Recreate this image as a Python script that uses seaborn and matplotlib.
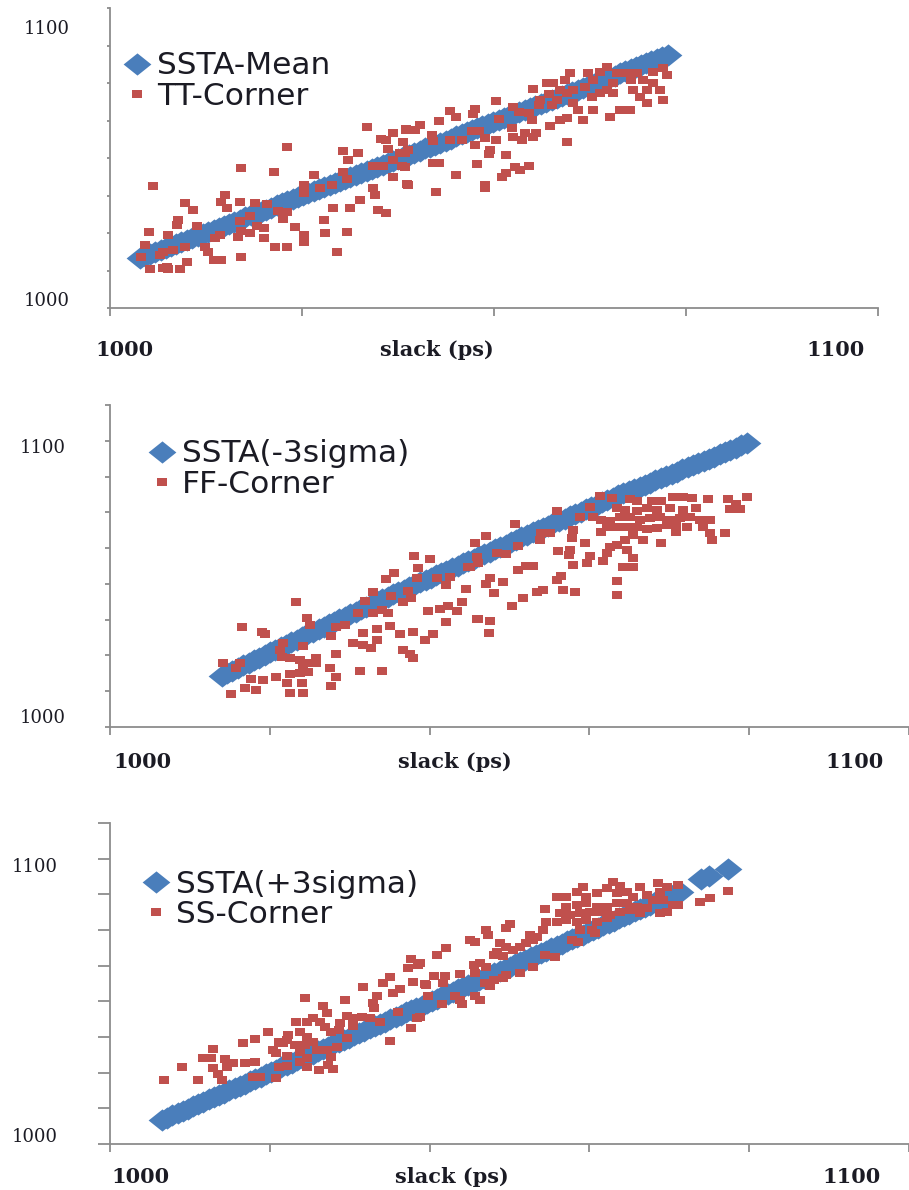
import numpy as np
import pandas as pd
import matplotlib
matplotlib.use("Agg")
import matplotlib.pyplot as plt
from matplotlib.path import Path
import seaborn as sns

# ---------------- data (slack in ps, delay in ps) ----------------
SSTA_MEAN = [
    (1003.9, 1016.7), (1004.55, 1017.35), (1005.2, 1018.0), (1005.9, 1018.7), (1006.6, 1019.4),
    (1007.3, 1020.05), (1008.0, 1020.7), (1008.65, 1021.35), (1009.3, 1022.0), (1010.0, 1022.7),
    (1010.7, 1023.4), (1011.4, 1024.1), (1012.1, 1024.8), (1012.8, 1025.45), (1013.5, 1026.1),
    (1014.15, 1026.75), (1014.8, 1027.4), (1015.5, 1028.1), (1016.2, 1028.8), (1016.9, 1029.5),
    (1017.6, 1030.2), (1018.3, 1030.85), (1019.0, 1031.5), (1019.65, 1032.15), (1020.3, 1032.8),
    (1021.0, 1033.5), (1021.7, 1034.2), (1022.4, 1034.9), (1023.1, 1035.6), (1023.8, 1036.25),
    (1024.5, 1036.9), (1025.15, 1037.55), (1025.8, 1038.2), (1026.5, 1038.9), (1027.2, 1039.6),
    (1027.9, 1040.25), (1028.6, 1040.9), (1029.3, 1041.6), (1030.0, 1042.3), (1030.65, 1042.95),
    (1031.3, 1043.6), (1032.0, 1044.3), (1032.7, 1045.0), (1033.4, 1045.7), (1034.1, 1046.4),
    (1034.8, 1047.1), (1035.5, 1047.8), (1036.15, 1048.4), (1036.8, 1049.0), (1037.5, 1049.7),
    (1038.2, 1050.4), (1038.9, 1051.1), (1039.6, 1051.8), (1040.3, 1052.5), (1041.0, 1053.2),
    (1041.65, 1053.8), (1042.3, 1054.4), (1043.0, 1055.1), (1043.7, 1055.8), (1044.4, 1056.5),
    (1045.1, 1057.2), (1045.8, 1057.9), (1046.5, 1058.6), (1047.15, 1059.25), (1047.8, 1059.9),
    (1048.5, 1060.55), (1049.2, 1061.2), (1049.9, 1061.9), (1050.6, 1062.6), (1051.3, 1063.3),
    (1052.0, 1064.0), (1052.65, 1064.65), (1053.3, 1065.3), (1054.0, 1065.95), (1054.7, 1066.6),
    (1055.4, 1067.3), (1056.1, 1068.0), (1056.8, 1068.7), (1057.5, 1069.4), (1058.15, 1070.05),
    (1058.8, 1070.7), (1059.5, 1071.4), (1060.2, 1072.1), (1060.9, 1072.8), (1061.6, 1073.5),
    (1062.3, 1074.15), (1063.0, 1074.8), (1063.65, 1075.45), (1064.3, 1076.1), (1065.0, 1076.8),
    (1065.7, 1077.5), (1066.4, 1078.2), (1067.1, 1078.9), (1067.8, 1079.6), (1068.5, 1080.3),
    (1069.15, 1080.95), (1069.8, 1081.6), (1070.5, 1082.25), (1071.2, 1082.9), (1071.9, 1083.6),
    (1072.6, 1084.3),
]

TT_CORNER = [
    (1033.4, 1060.2), (1036.9, 1058.4), (1038.5, 1059.6), (1035.3, 1056.2), (1036.0, 1056.0), (1038.1, 1055.4),
    (1023.1, 1053.8), (1030.4, 1052.4), (1032.3, 1051.6), (1031.0, 1049.3), (1036.2, 1052.9), (1038.4, 1051.6),
    (1017.1, 1046.8), (1021.4, 1045.4), (1034.3, 1047.3), (1035.6, 1047.3), (1036.9, 1049.3), (1038.0, 1047.3),
    (1005.6, 1040.7), (1026.5, 1044.3), (1030.3, 1045.4), (1030.8, 1042.9), (1036.9, 1043.6), (1038.7, 1041.2),
    (1025.2, 1041.0), (1027.3, 1039.9), (1028.9, 1041.0), (1025.2, 1038.2), (1034.3, 1039.9), (1034.5, 1037.7),
    (1015.0, 1037.7), (1009.8, 1034.9), (1014.5, 1035.4), (1016.9, 1035.4), (1018.9, 1034.9), (1020.4, 1034.6),
    (1015.2, 1033.2), (1010.8, 1032.7), (1021.9, 1032.4), (1023.0, 1031.9), (1029.1, 1033.2), (1031.2, 1033.2),
    (1032.5, 1036.0), (1034.9, 1032.7), (1035.9, 1031.6), (1008.9, 1029.3), (1018.2, 1030.7), (1016.9, 1029.0),
    (1022.5, 1029.7), (1027.8, 1029.3), (1011.3, 1027.4), (1008.7, 1027.7), (1019.1, 1027.4), (1020.0, 1026.6),
    (1024.1, 1027.1), (1017.1, 1025.7), (1005.1, 1025.2), (1007.6, 1024.3), (1014.3, 1024.5), (1013.7, 1023.2),
    (1016.7, 1023.8), (1018.2, 1024.9), (1028.0, 1025.1), (1030.8, 1025.4), (1025.2, 1024.3), (1025.2, 1022.1),
    (1020.0, 1023.2), (1004.6, 1021.0), (1009.8, 1020.4), (1012.4, 1020.4), (1012.8, 1018.8), (1021.5, 1020.4),
    (1023.0, 1020.4), (1006.9, 1018.8), (1008.2, 1019.3), (1006.5, 1017.7), (1004.1, 1017.1), (1013.5, 1016.0),
    (1014.5, 1016.0), (1017.0, 1017.1), (1029.5, 1018.6), (1005.2, 1012.9), (1006.9, 1013.2), (1007.6, 1012.9),
    (1009.1, 1012.9), (1010.0, 1015.2), (1007.4, 1013.8),
    (1038.6, 1059.5), (1040.4, 1061.0), (1039.7, 1059.3), (1042.8, 1062.4), (1044.3, 1065.8), (1045.1, 1063.8),
    (1047.5, 1066.2), (1047.3, 1064.7), (1050.3, 1069.1), (1050.6, 1062.9), (1038.2, 1055.4), (1038.8, 1052.7),
    (1041.9, 1057.7), (1042.1, 1055.8), (1044.3, 1056.0), (1045.8, 1056.0), (1047.1, 1059.1), (1048.0, 1059.1),
    (1047.5, 1054.3), (1048.8, 1056.6), (1050.3, 1056.0), (1049.5, 1052.7), (1049.3, 1051.3), (1051.6, 1051.0),
    (1052.3, 1059.9), (1052.5, 1057.1), (1053.2, 1065.4), (1053.6, 1056.0), (1054.0, 1058.2), (1055.1, 1057.1),
    (1055.5, 1058.4), (1054.9, 1062.7), (1054.5, 1064.9), (1052.5, 1067.1), (1055.1, 1072.9), (1055.8, 1067.7),
    (1056.9, 1075.1), (1057.7, 1074.9), (1057.1, 1071.5), (1057.5, 1067.7), (1058.2, 1069.3), (1057.3, 1060.7),
    (1058.6, 1062.7), (1059.5, 1063.2), (1059.9, 1078.4), (1059.2, 1076.0), (1060.3, 1072.7), (1061.0, 1066.0),
    (1061.6, 1062.7), (1062.3, 1078.2), (1062.9, 1076.0), (1063.8, 1078.8), (1064.7, 1080.4), (1061.8, 1073.8),
    (1062.7, 1070.4), (1063.8, 1071.6), (1064.7, 1072.7), (1065.5, 1074.9), (1066.0, 1078.2), (1067.3, 1078.2),
    (1067.9, 1076.0), (1068.6, 1078.2), (1069.4, 1076.0), (1070.7, 1078.8), (1072.0, 1079.9), (1072.5, 1077.7),
    (1071.6, 1072.7), (1072.0, 1069.3), (1070.7, 1074.9), (1069.9, 1072.7), (1069.9, 1068.2), (1069.0, 1070.4),
    (1068.1, 1072.7), (1067.7, 1066.0), (1066.4, 1066.0), (1065.5, 1071.6), (1065.1, 1063.8), (1062.9, 1066.0),
    (1060.3, 1068.2), (1059.5, 1071.6), (1058.6, 1072.7), (1056.0, 1069.3), (1042.1, 1048.2), (1042.8, 1048.2),
    (1047.8, 1047.9), (1045.1, 1044.3), (1038.8, 1041.0), (1042.5, 1038.8), (1048.8, 1041.0), (1048.8, 1039.9),
    (1051.0, 1043.8), (1051.6, 1044.9), (1052.7, 1047.1), (1054.5, 1047.3), (1053.4, 1046.0), (1059.5, 1055.4),
    (1038.4, 1047.1), (1037.8, 1051.6),
]

SSTA_MINUS3 = [
    (1014.0, 1017.8), (1014.65, 1018.7), (1015.3, 1019.6), (1016.0, 1020.55), (1016.7, 1021.5),
    (1017.35, 1022.4), (1018.0, 1023.3), (1018.7, 1024.25), (1019.4, 1025.2), (1020.05, 1026.05),
    (1020.7, 1026.9), (1021.35, 1027.8), (1022.0, 1028.7), (1022.7, 1029.6), (1023.4, 1030.5),
    (1024.05, 1031.45), (1024.7, 1032.4), (1025.4, 1033.3), (1026.1, 1034.2), (1026.75, 1035.05),
    (1027.4, 1035.9), (1028.05, 1036.75), (1028.7, 1037.6), (1029.4, 1038.5), (1030.1, 1039.4),
    (1030.75, 1040.3), (1031.4, 1041.2), (1032.1, 1042.1), (1032.8, 1043.0), (1033.45, 1043.85),
    (1034.1, 1044.7), (1034.75, 1045.5), (1035.4, 1046.3), (1036.1, 1047.15), (1036.8, 1048.0),
    (1037.45, 1048.85), (1038.1, 1049.7), (1038.8, 1050.55), (1039.5, 1051.4), (1040.15, 1052.2),
    (1040.8, 1053.0), (1041.45, 1053.8), (1042.1, 1054.6), (1042.8, 1055.5), (1043.5, 1056.4),
    (1044.15, 1057.2), (1044.8, 1058.0), (1045.5, 1058.85), (1046.2, 1059.7), (1046.85, 1060.5),
    (1047.5, 1061.3), (1048.15, 1062.1), (1048.8, 1062.9), (1049.5, 1063.75), (1050.2, 1064.6),
    (1050.85, 1065.45), (1051.5, 1066.3), (1052.2, 1067.15), (1052.9, 1068.0), (1053.55, 1068.8),
    (1054.2, 1069.6), (1054.85, 1070.35), (1055.5, 1071.1), (1056.2, 1071.95), (1056.9, 1072.8),
    (1057.55, 1073.6), (1058.2, 1074.4), (1058.9, 1075.25), (1059.6, 1076.1), (1060.25, 1076.9),
    (1060.9, 1077.7), (1061.55, 1078.45), (1062.2, 1079.2), (1062.9, 1080.05), (1063.6, 1080.9),
    (1064.25, 1081.65), (1064.9, 1082.4), (1065.6, 1083.2), (1066.3, 1084.0), (1066.95, 1084.7),
    (1067.6, 1085.4), (1068.25, 1086.15), (1068.9, 1086.9), (1069.6, 1087.7), (1070.3, 1088.5),
    (1070.95, 1089.25), (1071.6, 1090.0), (1072.3, 1090.75), (1073.0, 1091.5), (1073.65, 1092.25),
    (1074.3, 1093.0), (1074.95, 1093.7), (1075.6, 1094.4), (1076.3, 1095.25), (1077.0, 1096.1),
    (1077.65, 1096.85), (1078.3, 1097.6), (1079.0, 1098.4), (1079.7, 1099.2),
]

FF_CORNER = [
    (1045.7, 1064.4), (1045.9, 1059.5), (1044.8, 1056.0), (1038.1, 1059.9), (1040.0, 1058.6), (1038.6, 1055.7),
    (1035.6, 1053.9), (1034.6, 1051.6), (1037.3, 1047.5), (1038.4, 1052.2), (1040.9, 1052.2), (1042.5, 1052.5),
    (1042.1, 1049.6), (1044.6, 1048.1), (1032.9, 1047.1), (1035.2, 1045.6), (1036.7, 1043.8), (1037.7, 1045.0),
    (1031.9, 1044.1), (1023.3, 1043.6), (1039.8, 1040.7), (1041.3, 1041.2), (1042.3, 1042.3), (1043.4, 1040.7),
    (1042.1, 1036.8), (1044.0, 1043.8), (1045.9, 1037.7), (1031.1, 1039.7), (1032.9, 1039.7), (1034.0, 1040.9),
    (1034.8, 1040.0), (1024.6, 1038.0), (1025.0, 1035.6), (1028.3, 1035.1), (1029.4, 1035.6), (1016.5, 1034.8),
    (1019.0, 1033.3), (1019.4, 1032.5), (1031.7, 1033.0), (1033.4, 1034.1), (1035.0, 1035.3), (1036.3, 1032.5),
    (1037.9, 1033.3), (1040.4, 1032.5), (1039.4, 1030.4), (1027.7, 1031.8), (1030.4, 1029.5), (1031.7, 1028.7),
    (1032.7, 1027.5), (1033.4, 1030.4), (1036.7, 1026.9), (1037.5, 1025.5), (1037.9, 1024.0), (1024.2, 1028.3),
    (1021.7, 1029.2), (1021.3, 1026.9), (1021.5, 1024.6), (1022.5, 1024.0), (1023.8, 1023.4), (1024.2, 1021.1),
    (1025.0, 1022.3), (1025.8, 1024.0), (1025.8, 1022.3), (1028.3, 1025.4), (1014.2, 1022.3), (1016.3, 1022.3),
    (1015.8, 1020.7), (1017.7, 1016.7), (1019.2, 1016.4), (1020.8, 1017.6), (1022.5, 1018.5), (1023.8, 1018.8),
    (1024.8, 1019.3), (1027.5, 1020.5), (1028.3, 1017.6), (1031.3, 1019.7), (1034.0, 1019.7), (1016.9, 1013.5),
    (1018.3, 1012.9), (1015.2, 1011.4), (1022.1, 1015.3), (1024.0, 1015.3), (1022.5, 1011.8), (1024.2, 1012.0),
    (1027.7, 1014.3),
    (1061.3, 1080.7), (1062.8, 1079.9), (1065.1, 1079.6), (1065.9, 1078.8), (1067.8, 1079.1), (1069.0, 1078.8),
    (1070.5, 1080.5), (1071.7, 1080.5), (1072.8, 1079.9), (1074.9, 1079.7), (1077.4, 1079.7), (1079.7, 1080.3),
    (1078.4, 1077.9), (1077.6, 1076.2), (1078.8, 1076.2), (1060.1, 1076.8), (1063.4, 1076.4), (1064.5, 1075.8),
    (1065.9, 1075.3), (1067.2, 1076.4), (1068.4, 1075.8), (1070.1, 1076.4), (1071.7, 1075.8), (1073.4, 1076.4),
    (1055.9, 1075.6), (1058.8, 1073.3), (1060.5, 1073.3), (1061.5, 1072.3), (1062.6, 1071.8), (1063.8, 1073.3),
    (1065.1, 1073.3), (1066.3, 1072.3), (1067.6, 1072.9), (1068.8, 1073.5), (1070.1, 1072.3), (1071.3, 1072.9),
    (1072.6, 1073.3), (1073.8, 1072.3), (1075.1, 1072.3), (1074.2, 1070.0), (1072.2, 1070.0), (1070.9, 1070.6),
    (1069.7, 1070.6), (1068.4, 1069.4), (1067.2, 1069.2), (1065.9, 1070.0), (1064.7, 1070.0), (1063.4, 1070.0),
    (1062.2, 1070.0), (1061.5, 1068.3), (1070.9, 1068.0), (1075.1, 1067.7), (1077.0, 1067.9), (1075.3, 1065.4),
    (1050.7, 1070.9), (1047.1, 1066.8), (1045.7, 1064.2), (1054.0, 1067.9), (1055.1, 1067.7), (1053.8, 1065.4),
    (1058.0, 1068.8), (1057.8, 1065.9), (1059.4, 1064.4), (1051.1, 1063.4), (1048.4, 1060.9), (1049.6, 1060.5),
    (1045.9, 1059.5), (1046.1, 1057.2), (1045.1, 1056.0), (1056.1, 1061.6), (1057.4, 1060.1), (1057.6, 1061.9),
    (1060.1, 1059.8), (1059.7, 1057.2), (1058.0, 1056.6), (1061.7, 1058.0), (1062.6, 1063.0), (1063.4, 1063.6),
    (1064.5, 1065.4), (1065.5, 1067.1), (1066.7, 1065.4), (1069.0, 1064.2), (1064.7, 1061.9), (1064.2, 1056.0),
    (1065.5, 1056.0), (1065.5, 1059.2), (1062.2, 1060.9), (1052.1, 1056.3), (1053.0, 1056.3), (1051.1, 1054.9),
    (1056.5, 1052.9), (1055.9, 1051.4), (1047.6, 1052.2), (1049.2, 1050.8), (1047.1, 1050.0), (1048.0, 1046.7),
    (1054.2, 1047.9), (1053.4, 1047.3), (1056.7, 1047.9), (1058.2, 1047.1), (1051.7, 1045.0), (1050.3, 1042.3),
    (1063.4, 1051.0), (1063.4, 1046.1), (1046.1, 1037.7), (1047.6, 1037.2), (1047.4, 1032.7),
]

SSTA_PLUS3 = [
    (1006.5, 1008.4), (1007.15, 1009.2), (1007.8, 1010.0), (1008.45, 1010.8), (1009.1, 1011.6),
    (1009.75, 1012.4), (1010.4, 1013.2), (1011.05, 1014.0), (1011.7, 1014.8), (1012.35, 1015.6),
    (1013.0, 1016.4), (1013.65, 1017.2), (1014.3, 1018.0), (1014.95, 1018.8), (1015.6, 1019.6),
    (1016.25, 1020.4), (1016.9, 1021.2), (1017.55, 1022.0), (1018.2, 1022.8), (1018.85, 1023.65),
    (1019.5, 1024.5), (1020.15, 1025.3), (1020.8, 1026.1), (1021.45, 1026.9), (1022.1, 1027.7),
    (1022.75, 1028.5), (1023.4, 1029.3), (1024.05, 1030.1), (1024.7, 1030.9), (1025.35, 1031.7),
    (1026.0, 1032.5), (1026.65, 1033.3), (1027.3, 1034.1), (1027.95, 1034.9), (1028.6, 1035.7),
    (1029.25, 1036.5), (1029.9, 1037.3), (1030.55, 1038.1), (1031.2, 1038.9), (1031.85, 1039.7),
    (1032.5, 1040.5), (1033.15, 1041.3), (1033.8, 1042.1), (1034.45, 1042.9), (1035.1, 1043.7),
    (1035.75, 1044.5), (1036.4, 1045.3), (1037.05, 1046.1), (1037.7, 1046.9), (1038.35, 1047.7),
    (1039.0, 1048.5), (1039.65, 1049.3), (1040.3, 1050.1), (1040.95, 1050.9), (1041.6, 1051.7),
    (1042.25, 1052.55), (1042.9, 1053.4), (1043.55, 1054.2), (1044.2, 1055.0), (1044.85, 1055.8),
    (1045.5, 1056.6), (1046.15, 1057.4), (1046.8, 1058.2), (1047.45, 1059.0), (1048.1, 1059.8),
    (1048.75, 1060.6), (1049.4, 1061.4), (1050.05, 1062.2), (1050.7, 1063.0), (1051.35, 1063.8),
    (1052.0, 1064.6), (1052.65, 1065.4), (1053.3, 1066.2), (1053.95, 1067.0), (1054.6, 1067.8),
    (1055.25, 1068.6), (1055.9, 1069.4), (1056.55, 1070.2), (1057.2, 1071.0), (1057.85, 1071.8),
    (1058.5, 1072.6), (1059.15, 1073.4), (1059.8, 1074.2), (1060.45, 1075.0), (1061.1, 1075.8),
    (1061.75, 1076.6), (1062.4, 1077.4), (1063.05, 1078.25), (1063.7, 1079.1), (1064.35, 1079.9),
    (1065.0, 1080.7), (1065.65, 1081.5), (1066.3, 1082.3), (1066.95, 1083.1), (1067.6, 1083.9),
    (1068.25, 1084.7), (1068.9, 1085.5), (1069.55, 1086.3), (1070.2, 1087.1), (1070.75, 1087.75),
    (1071.3, 1088.4), (1074.0, 1092.8), (1075.0, 1093.9), (1077.4, 1096.4),
]

SS_CORNER = [
    (1037.7, 1064.7), (1037.3, 1061.6), (1038.6, 1062.7), (1035.0, 1058.4), (1034.2, 1056.5), (1031.7, 1055.1),
    (1037.9, 1056.9), (1039.4, 1056.0), (1036.3, 1054.2), (1035.4, 1053.0), (1024.4, 1051.3), (1029.4, 1050.5),
    (1026.7, 1048.2), (1027.1, 1046.0), (1033.4, 1051.7), (1032.9, 1049.3), (1033.1, 1047.6), (1031.5, 1044.6),
    (1030.4, 1044.1), (1029.6, 1044.9), (1028.8, 1042.3), (1032.5, 1044.1), (1033.8, 1042.6), (1036.1, 1046.4),
    (1038.4, 1044.1), (1037.7, 1040.8), (1035.0, 1036.2), (1023.3, 1042.9), (1024.6, 1042.9), (1025.4, 1044.1),
    (1026.3, 1042.9), (1026.9, 1041.1), (1027.7, 1039.4), (1023.8, 1039.4), (1024.6, 1037.6), (1025.4, 1035.9),
    (1024.4, 1034.7), (1023.1, 1034.7), (1022.3, 1038.2), (1021.1, 1035.9), (1019.8, 1039.1), (1021.7, 1035.3),
    (1020.8, 1031.8), (1022.1, 1030.9), (1023.8, 1032.4), (1024.6, 1030.1), (1023.8, 1028.9), (1025.9, 1033.0),
    (1027.1, 1033.0), (1028.4, 1034.1), (1029.6, 1037.0), (1027.7, 1030.6), (1027.3, 1027.7), (1026.1, 1025.9),
    (1027.9, 1026.2), (1024.6, 1027.1), (1021.1, 1027.1), (1018.1, 1036.7), (1016.7, 1035.3), (1012.9, 1033.2),
    (1012.7, 1030.1), (1011.7, 1030.3), (1014.4, 1029.8), (1015.4, 1028.5), (1016.9, 1028.3), (1018.1, 1028.9),
    (1014.6, 1027.1), (1012.9, 1026.5), (1013.5, 1024.5), (1014.0, 1022.4), (1009.0, 1026.9), (1006.7, 1022.5),
    (1011.0, 1022.5), (1017.9, 1023.6), (1018.8, 1023.6), (1020.8, 1023.3), (1022.1, 1027.5), (1020.4, 1033.0),
    (1022.1, 1036.5), (1028.6, 1040.0), (1030.4, 1041.4),
    (1059.2, 1090.0), (1063.0, 1091.9), (1063.8, 1090.4), (1066.3, 1090.2), (1068.6, 1091.4), (1069.7, 1090.2),
    (1071.1, 1090.8), (1068.8, 1088.4), (1055.9, 1086.7), (1057.1, 1086.7), (1058.4, 1088.4), (1059.6, 1086.7),
    (1060.9, 1087.9), (1062.2, 1089.6), (1063.4, 1087.9), (1064.7, 1088.4), (1065.5, 1086.7), (1067.2, 1087.3),
    (1068.0, 1085.5), (1069.2, 1085.5), (1070.5, 1083.8), (1071.1, 1083.8), (1069.7, 1081.4), (1068.8, 1080.9),
    (1067.2, 1082.6), (1065.9, 1083.2), (1064.7, 1084.4), (1063.4, 1084.4), (1062.2, 1083.2), (1060.9, 1083.2),
    (1059.6, 1084.4), (1058.4, 1083.8), (1057.1, 1083.2), (1056.3, 1080.9), (1057.6, 1080.3), (1058.8, 1080.9),
    (1060.1, 1081.4), (1061.3, 1081.4), (1062.6, 1080.3), (1063.8, 1081.4), (1065.1, 1082.0), (1066.3, 1080.9),
    (1054.4, 1082.3), (1054.6, 1077.9), (1055.9, 1077.9), (1057.1, 1078.5), (1058.4, 1077.9), (1059.6, 1078.5),
    (1060.9, 1077.9), (1062.2, 1079.1), (1050.1, 1077.1), (1049.6, 1075.6), (1047.1, 1075.0), (1047.3, 1073.3),
    (1045.1, 1071.5), (1045.7, 1070.9), (1052.6, 1073.3), (1053.0, 1071.5), (1054.2, 1075.0), (1053.4, 1072.7),
    (1058.8, 1075.0), (1060.3, 1075.0), (1060.7, 1073.8), (1057.8, 1071.5), (1058.6, 1070.9), (1048.8, 1070.3),
    (1049.6, 1069.2), (1048.4, 1067.4), (1048.0, 1066.3), (1049.2, 1065.9), (1050.5, 1068.0), (1051.3, 1069.2),
    (1052.1, 1070.3), (1042.1, 1068.6), (1040.9, 1066.3), (1054.4, 1066.3), (1055.7, 1065.7), (1045.5, 1062.7),
    (1046.3, 1063.3), (1047.1, 1062.1), (1045.7, 1060.0), (1043.8, 1059.6), (1041.9, 1058.9), (1040.5, 1058.9),
    (1041.7, 1056.3), (1039.6, 1055.7), (1038.8, 1063.3), (1053.0, 1062.2), (1051.3, 1059.8), (1049.6, 1059.2),
    (1049.2, 1058.1), (1048.0, 1057.5), (1046.9, 1056.3), (1047.6, 1055.2), (1043.2, 1051.7), (1043.8, 1050.5),
    (1044.0, 1049.1), (1045.7, 1051.7), (1046.3, 1050.3), (1039.8, 1051.7), (1041.5, 1049.1), (1038.8, 1044.6),
    (1073.8, 1084.9), (1075.1, 1086.1), (1077.3, 1088.7),
]

SERIES_LABELS = [("SSTA-Mean", "TT-Corner"),
                 ("SSTA(-3sigma)", "FF-Corner"),
                 ("SSTA(+3sigma)", "SS-Corner")]
AXIS_TEXT = ("1000", "1100", "slack (ps)")

# ---------------- styling ----------------
sns.set_theme(style="white")
plt.rcParams["font.family"] = ["DejaVu Sans"]

W, H = 909, 1190
fig = plt.figure(figsize=(W / 100, H / 100), dpi=100)

BLUE = "#4a7ebb"
RED = "#c0504d"
AXIS_GRAY = "#8c8c8c"
TEXT_COLOR = "#1b1b24"

diamond = Path([(-1, 0), (0, -0.8), (1, 0), (0, 0.8), (-1, 0)],
               [Path.MOVETO, Path.LINETO, Path.LINETO, Path.LINETO, Path.CLOSEPOLY])
square = Path([(-1, -0.72), (1, -0.72), (1, 0.72), (-1, 0.72), (-1, -0.72)],
              [Path.MOVETO, Path.LINETO, Path.LINETO, Path.LINETO, Path.CLOSEPOLY])


def px_rect(left, top, right, bottom):
    return [left / W, 1 - bottom / H, (right - left) / W, (bottom - top) / H]


def ftext(x, y, s, **kw):
    fig.text(x / W, 1 - y / H, s, ha="center", va="center", color=TEXT_COLOR, **kw)


panels = [
    dict(blue=SSTA_MEAN, red=TT_CORNER, labels=SERIES_LABELS[0],
         rect=px_rect(110, 8, 878, 308), ytop=1100, xstep=25, ytl=2.2,
         leg=(0.016, 0.855), ylab=(47, 29, 301), xlab=(124, 437, 836, 350)),
    dict(blue=SSTA_MINUS3, red=FF_CORNER, labels=SERIES_LABELS[1],
         rect=px_rect(110, 405, 909, 727), ytop=1112.5, xstep=20, ytl=3.6,
         leg=(0.046, 0.893), ylab=(43, 448, 718), xlab=(142, 455, 855, 762)),
    dict(blue=SSTA_PLUS3, red=SS_CORNER, labels=SERIES_LABELS[2],
         rect=px_rect(110, 823, 909, 1144), ytop=1112.5, xstep=20, ytl=9.0,
         leg=(0.039, 0.855), ylab=(35, 867, 1137), xlab=(140, 452, 852, 1177)),
]

for p in panels:
    ax = fig.add_axes(p["rect"])
    df_b = pd.DataFrame(p["blue"], columns=["slack", "delay"])
    df_r = pd.DataFrame(p["red"], columns=["slack", "delay"])
    sns.scatterplot(data=df_b, x="slack", y="delay", ax=ax, marker=diamond, s=400,
                    color=BLUE, linewidth=0, alpha=1.0, label=p["labels"][0], zorder=2)
    sns.scatterplot(data=df_r, x="slack", y="delay", ax=ax, marker=square, s=56,
                    color=RED, linewidth=0, alpha=1.0, label=p["labels"][1], zorder=3)
    ax.set_xlim(1000, 1100)
    ax.set_ylim(1000, p["ytop"])
    ax.set_xlabel("")
    ax.set_ylabel("")
    ax.set_xticks(np.arange(1000, 1100.1, p["xstep"]))
    ax.set_yticks(np.arange(1000, p["ytop"] + 0.1, 12.5))
    ax.set_xticklabels([])
    ax.set_yticklabels([])
    for s in ["top", "right"]:
        ax.spines[s].set_visible(False)
    for s in ["left", "bottom"]:
        ax.spines[s].set_color(AXIS_GRAY)
        ax.spines[s].set_linewidth(1.3)
    ax.tick_params(axis="both", direction="out", color=AXIS_GRAY, width=1.3,
                   bottom=True, left=True)
    ax.tick_params(axis="y", length=p["ytl"])
    ax.tick_params(axis="x", length=6)
    ax.set_facecolor("white")

    leg = ax.legend(loc="upper left", bbox_to_anchor=p["leg"], frameon=False,
                    borderpad=0, borderaxespad=0, handlelength=0.95,
                    handletextpad=0.17, labelspacing=0.06, scatteryoffsets=[0.5],
                    prop={"family": "DejaVu Sans", "size": 22.5})
    for t in leg.get_texts():
        t.set_color(TEXT_COLOR)

    yx, y_hi, y_lo = p["ylab"]
    ftext(yx, y_hi, AXIS_TEXT[1], family="DejaVu Serif", fontsize=13)
    ftext(yx, y_lo, AXIS_TEXT[0], family="DejaVu Serif", fontsize=13)
    x0, xm, x1, xy = p["xlab"]
    ftext(x0, xy, AXIS_TEXT[0], family="DejaVu Serif", fontsize=15, fontweight="bold")
    ftext(xm, xy, AXIS_TEXT[2], family="DejaVu Serif", fontsize=15, fontweight="bold")
    ftext(x1, xy, AXIS_TEXT[1], family="DejaVu Serif", fontsize=15, fontweight="bold")

fig.savefig("out.png", dpi=100, facecolor="white")
